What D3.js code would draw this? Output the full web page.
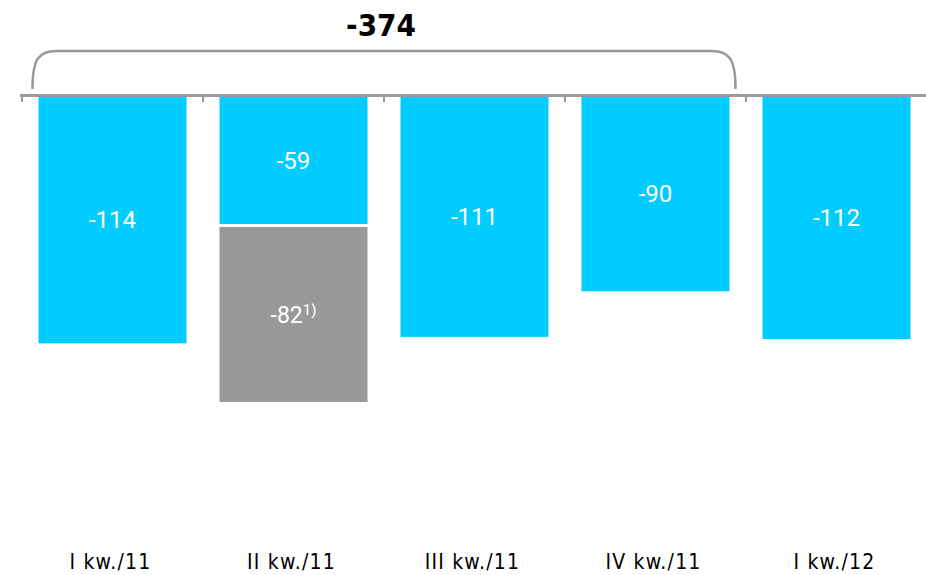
<!DOCTYPE html>
<html>
<head>
<meta charset="utf-8">
<script src="https://cdn.jsdelivr.net/npm/d3@7/dist/d3.min.js"></script>
<style>
  html, body { margin: 0; padding: 0; background: #fff; }
  svg { display: block; }
</style>
</head>
<body>
<svg id="chart" width="926" height="575"></svg>
<script>
// ---- data ----
const categories = ["I kw./11", "II kw./11", "III kw./11", "IV kw./11", "I kw./12"];
const mainValues = [-114, -59, -111, -90, -112];
const extraValues = [0, -82, 0, 0, 0];          // grey one-off item
const extraNotes = ["", "1)", "", "", ""];
const braceTotal = -374;                          // sum of first four quarters
const braceFrom = 0, braceTo = 3;

// ---- layout ----
const svg = d3.select("#chart");
const blue = "#00CCFF", grey = "#999999", axisGrey = "#999999";

const x = d3.scaleBand()
  .domain(categories)
  .range([22, 927])
  .paddingInner(33 / 181)
  .paddingOuter(16.5 / 181);

const y = d3.scaleLinear().domain([0, 200]).range([96, 530]);
const bw = x.bandwidth();

// bars (main)
const g = svg.append("g");
categories.forEach((c, i) => {
  const v = Math.abs(mainValues[i]);
  g.append("rect")
    .attr("x", x(c)).attr("y", y(0))
    .attr("width", bw).attr("height", y(v) - y(0))
    .attr("fill", blue);
  g.append("text")
    .attr("x", x(c) + bw / 2)
    .attr("y", (y(0) + y(v)) / 2)
    .attr("dy", "0.36em")
    .attr("text-anchor", "middle")
    .attr("fill", "#fff")
    .style("font-family", "Roboto, Liberation Sans, Arial, sans-serif")
    .style("font-size", "24px")
    .text(mainValues[i]);

  const e = Math.abs(extraValues[i]);
  if (e > 0) {
    const top = y(v) + 3, bottom = y(v + e);
    g.append("rect")
      .attr("x", x(c)).attr("y", top)
      .attr("width", bw).attr("height", bottom - top)
      .attr("fill", grey);
    const t = g.append("text")
      .attr("x", x(c) + bw / 2)
      .attr("y", (top + bottom) / 2)
      .attr("dy", "0.36em")
      .attr("text-anchor", "middle")
      .attr("fill", "#fff")
      .style("font-family", "Roboto, Liberation Sans, Arial, sans-serif")
      .style("font-size", "23px");
    t.append("tspan").text(extraValues[i]);
    t.append("tspan").attr("dy", "-0.5em").style("font-size", "15px").text(extraNotes[i]);
  }
});

// axis line with ticks at band boundaries
svg.append("line")
  .attr("x1", 20).attr("x2", 926)
  .attr("y1", 95.5).attr("y2", 95.5)
  .attr("stroke", axisGrey).attr("stroke-width", 3);
const step = x.step();
d3.range(categories.length + 1).forEach(i => {
  const tx = 22 + i * step;
  svg.append("line")
    .attr("x1", tx).attr("x2", tx)
    .attr("y1", 95).attr("y2", 102)
    .attr("stroke", axisGrey).attr("stroke-width", 2);
});

// brace over first four quarters
const bx1 = x(categories[braceFrom]) - 6;
const bx2 = x(categories[braceTo]) + bw + 6;
const by = 51, byEnd = 89, r = 24;
const path = d3.path();
path.moveTo(bx1, byEnd);
path.bezierCurveTo(bx1, by + 8, bx1 + 6, by, bx1 + r, by);
path.lineTo(bx2 - r, by);
path.bezierCurveTo(bx2 - 6, by, bx2, by + 8, bx2, byEnd);
svg.append("path")
  .attr("d", path.toString())
  .attr("fill", "none")
  .attr("stroke", axisGrey)
  .attr("stroke-width", 2.5);

svg.append("text")
  .attr("x", (bx1 + bx2) / 2 - 3)
  .attr("y", 36)
  .attr("text-anchor", "middle")
  .style("font-family", "DejaVu Sans Condensed, DejaVu Sans, sans-serif")
  .style("font-weight", "bold")
  .style("font-size", "31px")
  .attr("fill", "#000")
  .text(braceTotal);

// category labels
svg.append("g").selectAll("text")
  .data(categories)
  .join("text")
  .attr("x", d => x(d) + bw / 2 - 2)
  .attr("y", 569)
  .attr("text-anchor", "middle")
  .style("font-family", "DejaVu Sans Condensed, DejaVu Sans, sans-serif")
  .style("font-size", "21px")
  .style("letter-spacing", "1.2px")
  .attr("fill", "#000")
  .text(d => d);
</script>
</body>
</html>
